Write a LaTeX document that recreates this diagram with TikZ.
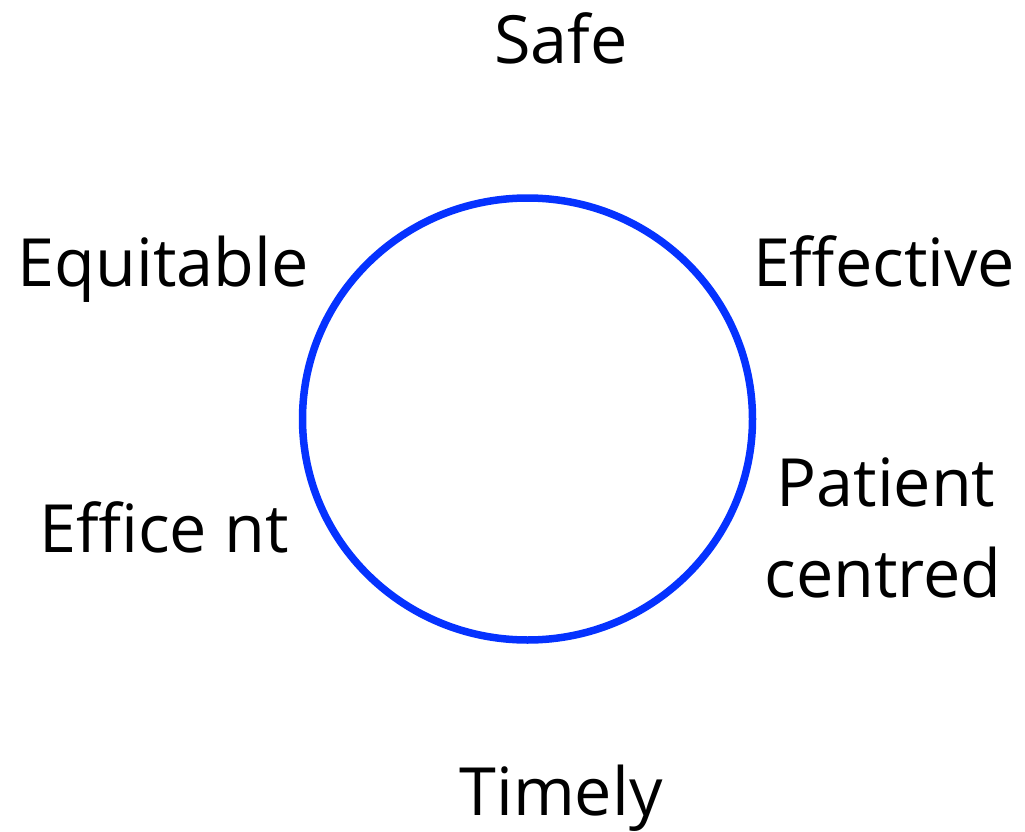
\documentclass[tikz,border=0pt]{standalone}
\usepackage{fontspec}
\setmainfont{Open Sans}
\definecolor{ringblue}{RGB}{5,50,255}
\begin{document}
\begin{tikzpicture}[x=1pt,y=-1pt,
  lbl/.style={font=\fontsize{66.5}{80}\selectfont, inner sep=0pt, anchor=base, text=black}]
\useasboundingbox (0,0) rectangle (1025,832);
\draw[ringblue, line width=7.5pt] (527.5,419) ellipse [x radius=225, y radius=221];
\node[lbl] (safe) at (561,64) {Safe};
\node[lbl] (equitable) at (163,286) {Equitable};
\node[lbl] (effective) at (884,286) {Effective};
\node[lbl] (efficient) at (164,552) {Effice nt};
\node[lbl] (patient) at (886,506) {Patient};
\node[lbl] (centred) at (883,597) {centred};
\node[lbl] (timely) at (561,815) {Timely};
\end{tikzpicture}
\end{document}
